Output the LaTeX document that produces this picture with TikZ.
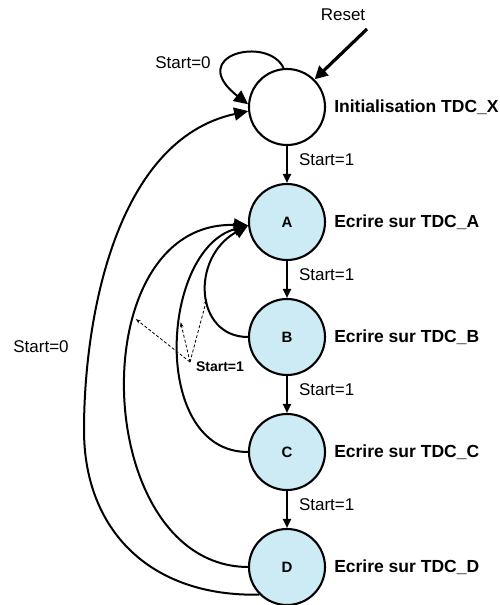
\documentclass[tikz,border=0pt]{standalone}
\usepackage{fontspec}
\setmainfont{Liberation Sans}
\usetikzlibrary{arrows.meta, positioning}
\definecolor{statefill}{RGB}{204,235,245}
\tikzset{
    state/.style = {circle, draw, line width=2.1pt, minimum size=76pt, inner sep=0pt, font=\bfseries\fontsize{15}{18}\selectfont},
    active/.style = {state, fill=statefill},
    desc/.style = {font=\bfseries\fontsize{17.5}{20}\selectfont, inner sep=0pt},
    trans/.style = {font=\fontsize{17}{20}\selectfont, inner sep=0pt},
    hintlbl/.style = {font=\bfseries\fontsize{14}{16}\selectfont, inner sep=0pt},
    arrow/.style = {line width=2pt, -{Triangle[length=9pt,width=8pt]}},
    bigarrow/.style = {line width=2pt, -{Triangle[length=14pt,width=13pt]}},
    resetarrow/.style = {line width=3.2pt, -{Triangle[length=13pt,width=13pt]}},
    hint/.style = {densely dashed, line width=0.8pt, -{Stealth[length=5pt,width=3.5pt]}}
}
\begin{document}
\begin{tikzpicture}[x=1pt, y=1pt, node distance=115pt]
        \useasboundingbox (0,0) rectangle (499,-605);

        % States
        \node [state] (init) at (287,-107) {};
        \node [active, below of=init] (A) {A};
        \node [active, below of=A] (B) {B};
        \node [active, below of=B] (C) {C};
        \node [active, below of=C] (D) {D};

        % State descriptions
        \node [desc, right=8pt of init] (initlbl) {Initialisation TDC\_X};
        \node [desc, right=8pt of A] (Albl) {Ecrire sur TDC\_A};
        \node [desc, right=8pt of B] (Blbl) {Ecrire sur TDC\_B};
        \node [desc, right=8pt of C] (Clbl) {Ecrire sur TDC\_C};
        \node [desc, right=8pt of D] (Dlbl) {Ecrire sur TDC\_D};

        % Reset
        \node [trans] (reset) at (343,-15) {Reset};
        \coordinate (rst) at (367,-29);
        \draw [resetarrow] (rst) -- (init.45);

        % Forward transitions
        \draw [arrow] (init) -- node[trans, pos=0.38, anchor=west, xshift=11pt] {Start=1} (A);
        \draw [arrow] (A) -- node[trans, pos=0.38, anchor=west, xshift=11pt] {Start=1} (B);
        \draw [arrow] (B) -- node[trans, pos=0.38, anchor=west, xshift=11pt] {Start=1} (C);
        \draw [arrow] (C) -- node[trans, pos=0.38, anchor=west, xshift=11pt] {Start=1} (D);

        % Self loop
        \draw [bigarrow] (init.95) .. controls (268,-35) and (185,-55) .. (init.176);
        \node [trans] (loop0) at (183,-63) {Start=0};

        % Back to A
        \draw [bigarrow] (B.west) .. controls (195,-337) and (190,-258) .. (A.185) coordinate[pos=0.46] (ba);
        \draw [bigarrow] (C.west) .. controls (150,-452) and (160,-250) .. (A.185) coordinate[pos=0.58] (ca);
        \draw [bigarrow] (D.west) .. controls (90,-566) and (80,-220) .. (A.185) coordinate[pos=0.65] (da);

        % Back to init
        \draw [bigarrow] (D.225) .. controls (150,-597) and (84,-530) .. (84,-430)
            .. controls (84,-320) and (115,-140) .. (init.186);
        \node [trans] (back0) at (41,-347) {Start=0};

        % Shared condition
        \node [hintlbl] (s1) at (220,-367) {Start=1};
        \coordinate (fan) at (190,-362);
        \draw [hint] (fan) -- (da);
        \draw [hint] (fan) -- (ca);
        \draw [hint] (fan) -- (ba);

    \end{tikzpicture}
\end{document}
